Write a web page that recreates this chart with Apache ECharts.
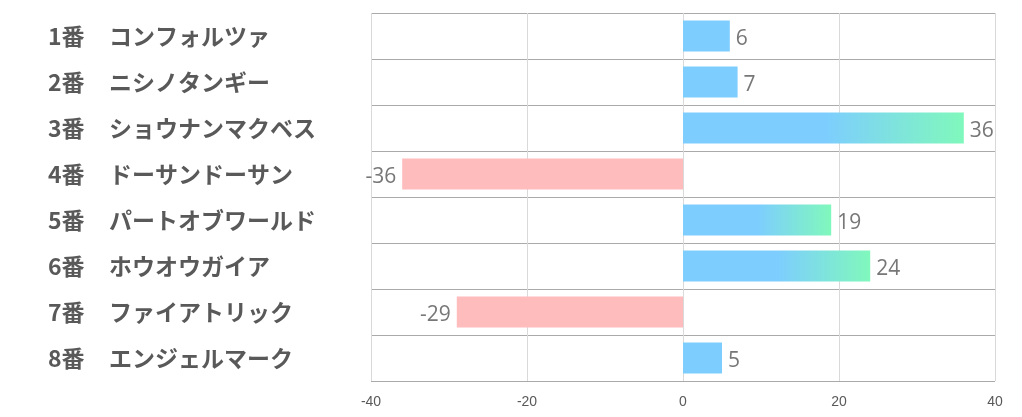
<!DOCTYPE html>
<html><head><meta charset="utf-8">
<script src="https://cdn.jsdelivr.net/npm/echarts@6/dist/echarts.min.js"></script>
<style>html,body{margin:0;padding:0;background:#fff}#c{width:1022px;height:417px}</style>
</head><body><div id="c"></div>
<script>
var numbers = ['1番','2番','3番','4番','5番','6番','7番','8番'];
var names = ['コンフォルツァ','ニシノタンギー','ショウナンマクベス','ドーサンドーサン','パートオブワールド','ホウオウガイア','ファイアトリック','エンジェルマーク'];
var values = [6, 7, 36, -36, 19, 24, -29, 5];
var xTicks = [-40, -20, 0, 20, 40];

var categories = numbers.map(function(n, i){ return n + '|' + names[i]; });
var BLUE = '#7dcdff', GREEN = '#80f8bc', PINK = '#ffbcbd';
var data = values.map(function(v){
  var color;
  if (v < 0) color = PINK;
  else if (v > 10) color = new echarts.graphic.LinearGradient(0,0,1,0,[{offset:0,color:BLUE},{offset:0.5,color:BLUE},{offset:1,color:GREEN}]);
  else color = BLUE;
  return {value: v, itemStyle: {color: color},
    label: {position: v < 0 ? 'left' : 'right'}};
});

var chart = echarts.init(document.getElementById('c'));
chart.setOption({
  animation: false,
  grid: {left: 371, right: 27, top: 13, bottom: 36, containLabel: false},
  xAxis: {
    type: 'value', min: xTicks[0], max: xTicks[xTicks.length-1], interval: 20,
    axisLine: {show: false}, axisTick: {show: false},
    axisLabel: {color: '#595959', fontSize: 14, fontFamily: 'Liberation Sans Narrow, Liberation Sans, sans-serif', margin: 14},
    splitLine: {show: true, lineStyle: {color: '#d9d9d9', width: 1}}
  },
  yAxis: {
    type: 'category', inverse: true, data: categories,
    axisLine: {show: false}, axisTick: {show: false},
    splitLine: {show: true, lineStyle: {color: '#aaaaaa', width: 1}},
    axisLabel: {
      align: 'left', margin: 323,
      formatter: function(v){ var p = v.split('|'); return '{a|' + p[0] + '}{b|' + p[1] + '}'; },
      rich: {
        a: {width: 61, fontSize: 23, fontWeight: 'bold', color: '#595959', fontFamily: 'Noto Sans CJK JP'},
        b: {fontSize: 23, fontWeight: 'bold', color: '#595959', fontFamily: 'Noto Sans CJK JP'}
      }
    }
  },
  series: [{
    type: 'bar', data: data, barWidth: 31,
    label: {show: true, color: '#777777', fontSize: 21, fontFamily: 'Open Sans', distance: 6, offset: [0, 3]},
    z: 3
  }]
});
</script></body></html>
